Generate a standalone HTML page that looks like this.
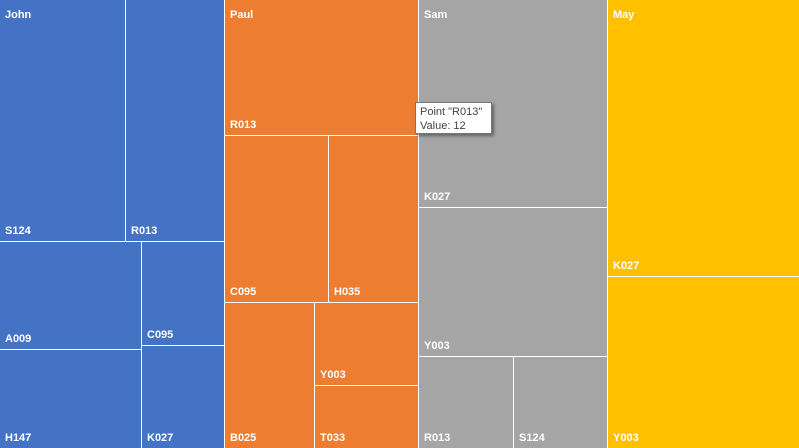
<!DOCTYPE html>
<html><head><style>
body{margin:0;width:799px;height:448px;overflow:hidden;background:#fff;font-family:"Liberation Sans",sans-serif;}
.r{position:absolute;box-sizing:border-box;}
.b{background:#4472C4}.o{background:#ED7D31}.g{background:#A5A5A5}.y{background:#FFC000}
.l{position:absolute;left:5px;bottom:4px;color:#fff;font-weight:bold;font-size:11px;}
.t{position:absolute;left:5px;top:9px;color:#fff;font-weight:bold;font-size:11px;}
.tip{position:absolute;left:415px;top:102px;width:77px;height:32px;background:#fff;border:1px solid #777;box-shadow:2px 2px 3px rgba(0,0,0,.4);font-size:11px;color:#444;line-height:14px;padding:2px 4px;box-sizing:border-box;}
</style></head><body>
<div class="r b" style="left:0;top:0;width:125px;height:241px"><span class="t">John</span><span class="l">S124</span></div>
<div class="r b" style="left:126px;top:0;width:98px;height:241px"><span class="l">R013</span></div>
<div class="r b" style="left:0;top:242px;width:141px;height:107px"><span class="l">A009</span></div>
<div class="r b" style="left:142px;top:242px;width:82px;height:103px"><span class="l">C095</span></div>
<div class="r b" style="left:0;top:350px;width:141px;height:98px"><span class="l">H147</span></div>
<div class="r b" style="left:142px;top:346px;width:82px;height:102px"><span class="l">K027</span></div>

<div class="r o" style="left:225px;top:0;width:193px;height:135px"><span class="t">Paul</span><span class="l">R013</span></div>
<div class="r o" style="left:225px;top:136px;width:103px;height:166px"><span class="l">C095</span></div>
<div class="r o" style="left:329px;top:136px;width:89px;height:166px"><span class="l">H035</span></div>
<div class="r o" style="left:225px;top:303px;width:89px;height:145px"><span class="l">B025</span></div>
<div class="r o" style="left:315px;top:303px;width:103px;height:82px"><span class="l">Y003</span></div>
<div class="r o" style="left:315px;top:386px;width:103px;height:62px"><span class="l">T033</span></div>

<div class="r g" style="left:419px;top:0;width:188px;height:207px"><span class="t">Sam</span><span class="l">K027</span></div>
<div class="r g" style="left:419px;top:208px;width:188px;height:148px"><span class="l">Y003</span></div>
<div class="r g" style="left:419px;top:357px;width:94px;height:91px"><span class="l">R013</span></div>
<div class="r g" style="left:514px;top:357px;width:93px;height:91px"><span class="l">S124</span></div>

<div class="r y" style="left:608px;top:0;width:191px;height:276px"><span class="t">May</span><span class="l">K027</span></div>
<div class="r y" style="left:608px;top:277px;width:191px;height:171px"><span class="l">Y003</span></div>

<div class="tip">Point "R013"<br>Value: 12</div>
</body></html>
